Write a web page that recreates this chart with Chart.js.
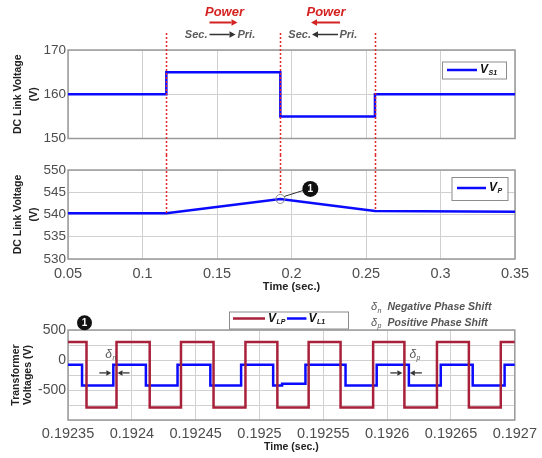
<!DOCTYPE html>
<html>
<head>
<meta charset="utf-8">
<script src="https://cdn.jsdelivr.net/npm/chart.js@4.4.1/dist/chart.umd.min.js"></script>
<style>
  html, body { margin: 0; padding: 0; background: #fff; }
  body { width: 542px; height: 458px; position: relative; overflow: hidden; }
  canvas { position: absolute; left: 0; }
</style>
</head>
<body>
<canvas id="dcTop" width="542" height="155" style="top:0"></canvas>
<canvas id="dcMid" width="542" height="145" style="top:155px"></canvas>
<canvas id="trafo" width="542" height="158" style="top:300px"></canvas>
<script>
const FONT = "'Liberation Sans', Arial, sans-serif";
const TICK_COLOR = '#4d4d4d';
const GRID_COLOR = '#d0d0d0';
const FRAME_COLOR = '#9a9a9a';
const BLUE = '#0a0aff';
const DARK_RED = '#a8203a';
const DASH_RED = '#e3262b';

// time axis of the two dc link plots
const timeTicks = [0.05, 0.1, 0.15, 0.2, 0.25, 0.3, 0.35];
const timeLabels = ['0.05', '0.1', '0.15', '0.2', '0.25', '0.3', '0.35'];
const eventTimes = [0.116, 0.1925, 0.256];

// secondary dc link
const vs1Ticks = [150, 160, 170];
const vs1Times = [0.05, 0.116, 0.1925, 0.256, 0.35];
const vs1Volts = [160, 165, 155, 160, 160];

// primary dc link
const vpTicks = [530, 535, 540, 545, 550];
const vpTimes = [0.05, 0.116, 0.1925, 0.256, 0.35];
const vpVolts = [540.3, 540.3, 543.5, 540.8, 540.6];

// zoom on the transformer voltages around point 1
const zoomTicks = [0.19235, 0.1924, 0.19245, 0.1925, 0.19255, 0.1926, 0.19265, 0.1927];
const zoomLabels = ['0.19235', '0.1924', '0.19245', '0.1925', '0.19255', '0.1926', '0.19265', '0.1927'];
const trTicks = [-1000, -750, -500, -250, 0, 250, 500];
const trLabels = ['', '', '-500', '', '0', '', '500'];

const vlpTimes = [0.19235, 0.1923645, 0.192388, 0.192414, 0.1924385, 0.192464, 0.192489, 0.192514,
                  0.1925385, 0.1925635, 0.192589, 0.1926135, 0.192639, 0.192664, 0.192689, 0.1927];
const vlpVolts = [300, -790, 300, -790, 300, -790, 300, -790, 300, -790, 300, -790, 300, -790, 300, 300];

const vl1Times = [0.19235, 0.192361, 0.1923855, 0.192411, 0.1924358, 0.1924615, 0.1924856, 0.1925107, 0.1925177,
                  0.192536, 0.1925674, 0.1925918, 0.192617, 0.192642, 0.192667, 0.192692, 0.1927];
const vl1Volts = [-80, -425, -80, -425, -80, -425, -80, -425, -395, -80, -425, -80, -425, -80, -425, -80, -80];

const pts = (xs, ys) => xs.map((x, i) => ({ x, y: ys[i] }));

function xAxis(min, max, ticks, labels, height, title) {
  return {
    type: 'linear', min, max,
    afterBuildTicks: s => { s.ticks = ticks.map(v => ({ value: v })); },
    afterFit: s => { s.height = height; },
    grid: { color: GRID_COLOR, drawTicks: false },
    border: { display: false },
    ticks: {
      display: !!labels, autoSkip: false, maxRotation: 0, padding: title ? title.tickPad : 0,
      callback: (v, i) => labels ? labels[i] : '',
      font: { family: FONT, size: 14.5 }, color: TICK_COLOR
    },
    title: title ? {
      display: true, text: title.text, color: '#222',
      font: { family: FONT, size: title.size, weight: 'bold' },
      padding: { top: 0, bottom: title.pad }
    } : { display: false }
  };
}

function yAxis(min, max, ticks, labels, tickSize, title, size, lineHeight, pad) {
  return {
    min, max,
    afterBuildTicks: s => { s.ticks = ticks.map(v => ({ value: v })); },
    afterFit: s => { s.width = 68; },
    grid: { color: GRID_COLOR, drawTicks: false },
    border: { display: false },
    ticks: {
      autoSkip: false, padding: 2,
      callback: (v, i) => labels[i],
      font: { family: FONT, size: tickSize }, color: TICK_COLOR
    },
    title: {
      display: true, text: title, color: '#222',
      font: { family: FONT, size, weight: 'bold', lineHeight },
      padding: { top: pad, bottom: 0 }
    }
  };
}

const framePlugin = {
  id: 'frame',
  beforeDatasetsDraw(chart) {
    const { ctx, chartArea: a } = chart;
    ctx.save();
    ctx.strokeStyle = FRAME_COLOR;
    ctx.lineWidth = 1.5;
    ctx.strokeRect(a.left, a.top, a.right - a.left, a.bottom - a.top);
    ctx.restore();
  }
};

function subText(ctx, x, y, main, sub, size, color, style) {
  ctx.fillStyle = color;
  ctx.textAlign = 'left';
  ctx.textBaseline = 'middle';
  ctx.font = `${style || 'italic bold'} ${size}px ${FONT}`;
  ctx.fillText(main, x, y);
  const w = ctx.measureText(main).width;
  ctx.font = `${style || 'italic bold'} ${Math.round(size * 0.62)}px ${FONT}`;
  ctx.fillText(sub, x + w + 0.5, y + size * 0.3);
  return x + w + 0.5 + ctx.measureText(sub).width;
}

function arrow(ctx, x1, y, x2, color, head, width) {
  const dir = x2 > x1 ? 1 : -1;
  ctx.strokeStyle = color;
  ctx.fillStyle = color;
  ctx.lineWidth = width || 1.5;
  ctx.beginPath();
  ctx.moveTo(x1, y);
  ctx.lineTo(x2 - dir * head, y);
  ctx.stroke();
  ctx.beginPath();
  ctx.moveTo(x2, y);
  ctx.lineTo(x2 - dir * head, y - head * 0.55);
  ctx.lineTo(x2 - dir * head, y + head * 0.55);
  ctx.closePath();
  ctx.fill();
}

function legendBox(ctx, x, y, w, h) {
  ctx.fillStyle = '#fff';
  ctx.fillRect(x, y, w, h);
  ctx.strokeStyle = '#8c8c8c';
  ctx.lineWidth = 1;
  ctx.strokeRect(x + 0.5, y + 0.5, w, h);
}

function legendLine(ctx, x1, x2, y, color) {
  ctx.strokeStyle = color;
  ctx.lineWidth = 2.5;
  ctx.beginPath();
  ctx.moveTo(x1, y);
  ctx.lineTo(x2, y);
  ctx.stroke();
}

function badge(ctx, x, y, r) {
  ctx.fillStyle = '#111';
  ctx.beginPath();
  ctx.arc(x, y, r, 0, Math.PI * 2);
  ctx.fill();
  ctx.fillStyle = '#fff';
  ctx.font = `bold ${Math.round(r * 1.3)}px ${FONT}`;
  ctx.textAlign = 'center';
  ctx.textBaseline = 'middle';
  ctx.fillText('1', x, y + 0.5);
}

const topNotes = {
  id: 'topNotes',
  afterDraw(chart) {
    const { ctx, scales: { x } } = chart;
    ctx.save();
    const ex = eventTimes.map(t => Math.round(x.getPixelForValue(t)) + 0.5);
    ctx.strokeStyle = DASH_RED;
    ctx.lineWidth = 1.5;
    ctx.setLineDash([2, 2]);
    ex.forEach(px => {
      ctx.beginPath();
      ctx.moveTo(px, 33);
      ctx.lineTo(px, chart.height);
      ctx.stroke();
    });
    ctx.setLineDash([]);

    const m1 = (ex[0] + ex[1]) / 2;
    const m2 = (ex[1] + ex[2]) / 2;
    ctx.textBaseline = 'middle';
    ctx.font = `italic bold 13px ${FONT}`;
    ctx.fillStyle = '#d42222';
    ctx.textAlign = 'center';
    ctx.fillText('Power', m1 + 1, 12.5);
    ctx.fillText('Power', m2 - 2, 12.5);
    arrow(ctx, m1 - 14, 22.5, m1 + 14, '#d42222', 6, 2);
    arrow(ctx, m2 + 12, 22.5, m2 - 17, '#d42222', 6, 2);

    ctx.font = `italic bold 11px ${FONT}`;
    ctx.fillStyle = '#5c5c5c';
    ctx.textAlign = 'right';
    ctx.fillText('Sec.', m1 - 16, 34.5);
    ctx.fillText('Sec.', m2 - 17, 34.5);
    ctx.textAlign = 'left';
    ctx.fillText('Pri.', m1 + 14, 34.5);
    ctx.fillText('Pri.', m2 + 11.5, 34.5);
    arrow(ctx, m1 - 14, 34.5, m1 + 12, '#333', 6, 1.5);
    arrow(ctx, m2 + 10, 34.5, m2 - 16, '#333', 6, 1.5);

    legendBox(ctx, 442, 61.5, 64, 17);
    legendLine(ctx, 447, 477, 70, BLUE);
    subText(ctx, 480, 69.5, 'V', 'S1', 12, '#111');
    ctx.restore();
  }
};

const midNotes = {
  id: 'midNotes',
  afterDraw(chart) {
    const { ctx, scales: { x, y } } = chart;
    ctx.save();
    ctx.strokeStyle = DASH_RED;
    ctx.lineWidth = 1.5;
    ctx.setLineDash([2, 2]);
    eventTimes.forEach((t, i) => {
      const px = Math.round(x.getPixelForValue(t)) + 0.5;
      const py = y.getPixelForValue(vpVolts[vpTimes.indexOf(t)]);
      ctx.beginPath();
      ctx.moveTo(px, 0);
      ctx.lineTo(px, i === 1 ? py - 4 : py);
      ctx.stroke();
    });
    ctx.setLineDash([]);

    const peak = vpVolts.indexOf(Math.max(...vpVolts));
    const cx = x.getPixelForValue(vpTimes[peak]);
    const cy = y.getPixelForValue(vpVolts[peak]);
    ctx.strokeStyle = '#8a8a8a';
    ctx.lineWidth = 1;
    ctx.beginPath();
    ctx.arc(cx, cy, 4.5, 0, Math.PI * 2);
    ctx.stroke();
    ctx.strokeStyle = '#333';
    ctx.beginPath();
    ctx.moveTo(cx + 4, cy - 2.5);
    ctx.lineTo(cx + 23, cy - 8.5);
    ctx.stroke();
    badge(ctx, cx + 30, cy - 10, 8);

    legendBox(ctx, 451.5, 22, 56, 23);
    legendLine(ctx, 457, 486, 33, BLUE);
    subText(ctx, 489, 32.5, 'V', 'P', 12, '#111');
    ctx.restore();
  }
};

function deltaMark(ctx, xs, y, label, sub) {
  const a = Math.min(...xs), b = Math.max(...xs);
  arrow(ctx, a - 14, y, a - 2, '#333', 5, 1.3);
  arrow(ctx, b + 13, y, b + 1, '#333', 5, 1.3);
  subText(ctx, label, y - 18, '\u03b4', sub, 12, '#555', 'italic');
}

const trNotes = {
  id: 'trNotes',
  afterDraw(chart) {
    const { ctx, scales: { x, y } } = chart;
    ctx.save();
    legendBox(ctx, 229, 11.5, 119, 17);
    legendLine(ctx, 233, 265, 18.5, DARK_RED);
    const e = subText(ctx, 268, 18.5, 'V', 'LP', 12, '#111');
    legendLine(ctx, e + 1.5, e + 21, 18.5, BLUE);
    subText(ctx, e + 23, 18.5, 'V', 'L1', 12, '#111');

    badge(ctx, 84.5, 22.7, 7.5);

    const yA = y.getPixelForValue(-215);
    const dn = [vl1Times[2], vlpTimes[2]].map(t => x.getPixelForValue(t));
    const dp = [vlpTimes[11], vl1Times[12]].map(t => x.getPixelForValue(t));
    deltaMark(ctx, dn, yA, Math.min(...dn) - 8, 'n');
    deltaMark(ctx, dp, yA, Math.min(...dp) + 5, 'p');

    const e1 = subText(ctx, 371, 7.3, '\u03b4', 'n', 11, '#555', 'italic');
    const e2 = subText(ctx, 371, 22.7, '\u03b4', 'p', 11, '#555', 'italic');
    ctx.font = `italic bold 10.5px ${FONT}`;
    ctx.fillStyle = '#555';
    ctx.textAlign = 'left';
    ctx.textBaseline = 'middle';
    ctx.fillText('Negative Phase Shift', e1 + 6, 7.3);
    ctx.fillText('Positive Phase Shift', e2 + 6, 22.7);
    ctx.restore();
  }
};

function lineSet(data, color, stepped) {
  return {
    data, stepped, borderColor: color, backgroundColor: color,
    borderWidth: 2.5, pointRadius: 0, tension: 0, fill: false, borderJoinStyle: 'miter'
  };
}

function makeChart(id, datasets, scales, padTop, plugins) {
  return new Chart(document.getElementById(id), {
    type: 'line',
    data: { datasets },
    options: {
      responsive: false,
      animation: false,
      events: [],
      layout: { padding: { top: padTop, right: 27, left: 0, bottom: 0 } },
      plugins: { legend: { display: false }, tooltip: { enabled: false } },
      scales
    },
    plugins: [framePlugin, ...plugins]
  });
}

makeChart('dcTop',
  [lineSet(pts(vs1Times, vs1Volts), BLUE, true)],
  {
    x: xAxis(0.05, 0.35, timeTicks, null, 16.5, null),
    y: yAxis(150, 170, vs1Ticks, vs1Ticks.map(String), 13.5, ['DC Link Voltage', '(V)'], 10.5, 1.5, 10.4)
  }, 50, [topNotes]);

makeChart('dcMid',
  [lineSet(pts(vpTimes, vpVolts), BLUE, false)],
  {
    x: xAxis(0.05, 0.35, timeTicks, timeLabels, 41, { text: 'Time (sec.)', size: 11, pad: 6.7, tickPad: 6.5 }),
    y: yAxis(530, 550, vpTicks, vpTicks.map(String), 13.5, ['DC Link Voltage', '(V)'], 10.5, 1.5, 10.4)
  }, 15, [midNotes]);

makeChart('trafo',
  [lineSet(pts(vlpTimes, vlpVolts), DARK_RED, true), lineSet(pts(vl1Times, vl1Volts), BLUE, true)],
  {
    x: xAxis(0.19235, 0.1927, zoomTicks, zoomLabels, 38, { text: 'Time (sec.)', size: 10.5, pad: 5, tickPad: 5 }),
    y: yAxis(-1000, 500, trTicks, trLabels, 14, ['Transformer', 'Voltages (V)'], 10.5, 1.1, 10.5)
  }, 30, [trNotes]);
</script>
</body>
</html>
